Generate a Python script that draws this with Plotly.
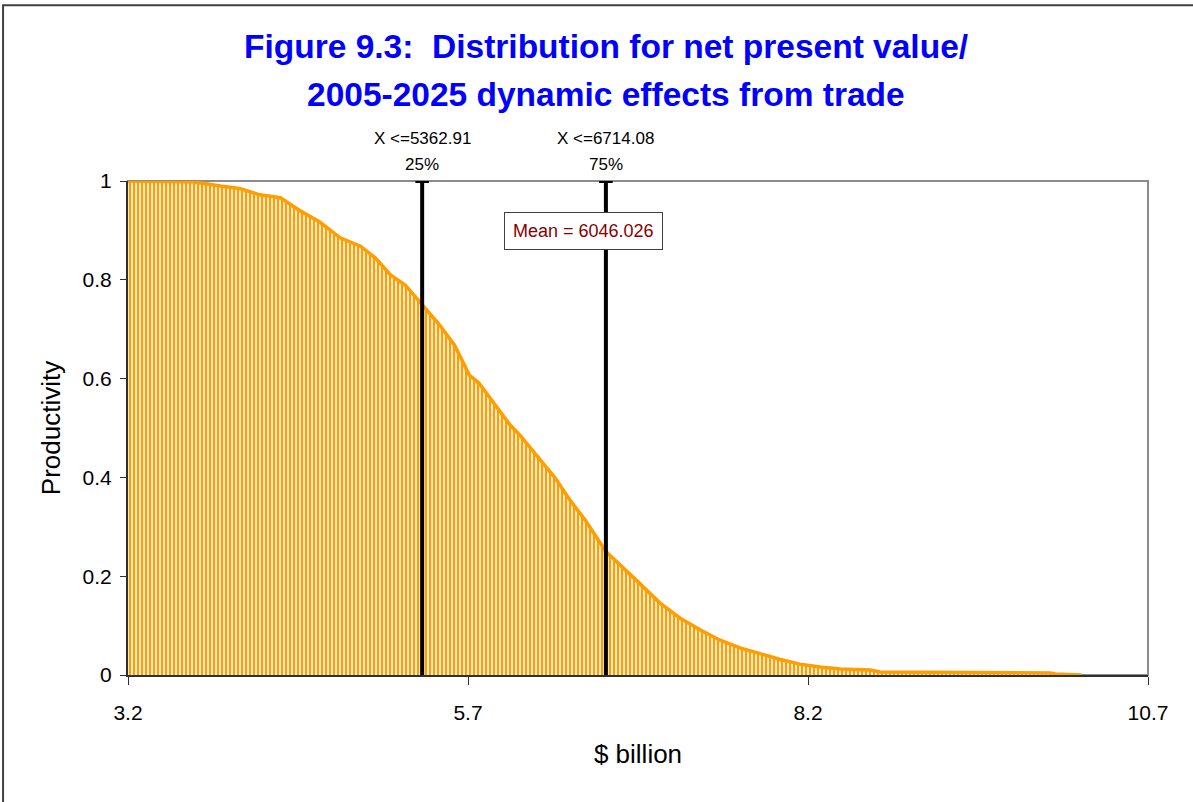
import plotly.graph_objects as go

# Descending cumulative distribution of NPV (dynamic trade effects, $ billion)
npv_billion = [3.20, 3.69, 3.88, 4.02, 4.17, 4.32, 4.46, 4.61, 4.76, 4.91, 5.02,
               5.13, 5.24, 5.36291, 5.49, 5.60, 5.71, 5.78, 5.90, 6.01, 6.08,
               6.23, 6.34, 6.45, 6.56, 6.71408, 6.82, 6.96, 7.11, 7.26, 7.41,
               7.55, 7.70, 7.85, 7.99, 8.14, 8.29, 8.44, 8.66, 8.73, 9.98,
               10.02, 10.21]
prob_exceed = [1.0, 0.998, 0.99, 0.985, 0.972, 0.966, 0.941, 0.917, 0.885, 0.868,
               0.844, 0.81, 0.789, 0.75, 0.709, 0.668, 0.607, 0.591, 0.547, 0.506,
               0.486, 0.435, 0.399, 0.354, 0.314, 0.25, 0.223, 0.186, 0.146, 0.115,
               0.091, 0.071, 0.055, 0.043, 0.032, 0.022, 0.016, 0.012, 0.010, 0.006,
               0.004, 0.002, 0.0]

# Percentile markers (values in $ million) and the mean
pct_values = [5362.91, 6714.08]
pct_labels = ["25%", "75%"]
mean_value = 6046.026

x_ticks = [3.2, 5.7, 8.2, 10.7]
y_ticks = [0, 0.2, 0.4, 0.6, 0.8, 1]

ORANGE = "#FF9E00"
FONT = "Liberation Sans, Arial, sans-serif"

fig = go.Figure()
fig.add_trace(go.Scatter(
    x=npv_billion, y=prob_exceed, mode="lines",
    line=dict(color=ORANGE, width=3.5),
    fill="tozeroy", fillcolor="white",
    fillpattern=dict(shape="|", fgcolor=ORANGE, bgcolor="white",
                     fillmode="replace", fgopacity=1,
                     size=4, solidity=0.6),
    hoverinfo="skip", showlegend=False,
))

shapes = []
annotations = []
cap = 0.05
for v, lab in zip(pct_values, pct_labels):
    xb = v / 1000.0
    shapes.append(dict(type="line", xref="x", yref="y", x0=xb, x1=xb, y0=0, y1=1,
                       line=dict(color="black", width=4), layer="above"))
    shapes.append(dict(type="line", xref="x", yref="y", x0=xb - cap, x1=xb + cap,
                       y0=1, y1=1, line=dict(color="black", width=4), layer="above"))
    annotations.append(dict(x=xb, y=1.109, xref="x", yref="paper",
                            text=f"X <={v:.2f}", showarrow=False,
                            font=dict(size=17, color="black")))
    annotations.append(dict(x=xb, y=1.056, xref="x", yref="paper",
                            text=lab, showarrow=False,
                            font=dict(size=17, color="black")))

annotations.append(dict(x=6.546, y=0.899, xref="x", yref="y",
                        text=f"Mean = {mean_value:.3f}", showarrow=False,
                        font=dict(size=18, color="#8B0000"),
                        bgcolor="white", bordercolor="#404040", borderwidth=1,
                        borderpad=8))

title_font = dict(family=FONT, size=33.5, color="#0000FF")
annotations.append(dict(x=0.4686, y=1.3135, xref="paper", yref="paper",
                        text="<b>Figure 9.3:  Distribution for net present value/</b>",
                        showarrow=False, font=title_font))
annotations.append(dict(x=0.4686, y=1.2165, xref="paper", yref="paper",
                        text="<b>2005-2025 dynamic effects from trade</b>",
                        showarrow=False, font=title_font))

# plot-area frame and outer figure frame
shapes.append(dict(type="rect", xref="paper", yref="paper", x0=0, x1=1, y0=0, y1=1,
                   line=dict(color="#8c8c8c", width=2), layer="below"))
shapes.append(dict(type="rect", xref="paper", yref="paper",
                   x0=-0.1225, x1=1.06, y0=-0.28, y1=1.356,
                   line=dict(color="#404040", width=2)))

fig.update_layout(
    width=1193, height=802,
    margin=dict(l=128, r=45, t=181, b=127),
    paper_bgcolor="white", plot_bgcolor="white",
    font=dict(family=FONT, color="black"),
    shapes=shapes, annotations=annotations,
    xaxis=dict(range=[3.2, 10.7], tickvals=x_ticks,
               ticktext=[str(t) for t in x_ticks],
               showgrid=False, zeroline=False, showline=True,
               linecolor="#303030", linewidth=2,
               ticks="outside", ticklen=8, tickcolor="#303030",
               ticklabelstandoff=10,
               tickfont=dict(size=21), title=dict(text="$ billion",
                                                   font=dict(size=26), standoff=22)),
    yaxis=dict(range=[0, 1], tickvals=y_ticks,
               ticktext=["0", "0.2", "0.4", "0.6", "0.8", "1"],
               showgrid=False, zeroline=False, showline=True,
               linecolor="#303030", linewidth=2,
               ticks="outside", ticklen=6, tickcolor="#303030",
               ticklabelstandoff=4,
               tickfont=dict(size=21), title=dict(text="Productivity",
                                                   font=dict(size=26), standoff=14)),
)

fig.write_html("out.html")
